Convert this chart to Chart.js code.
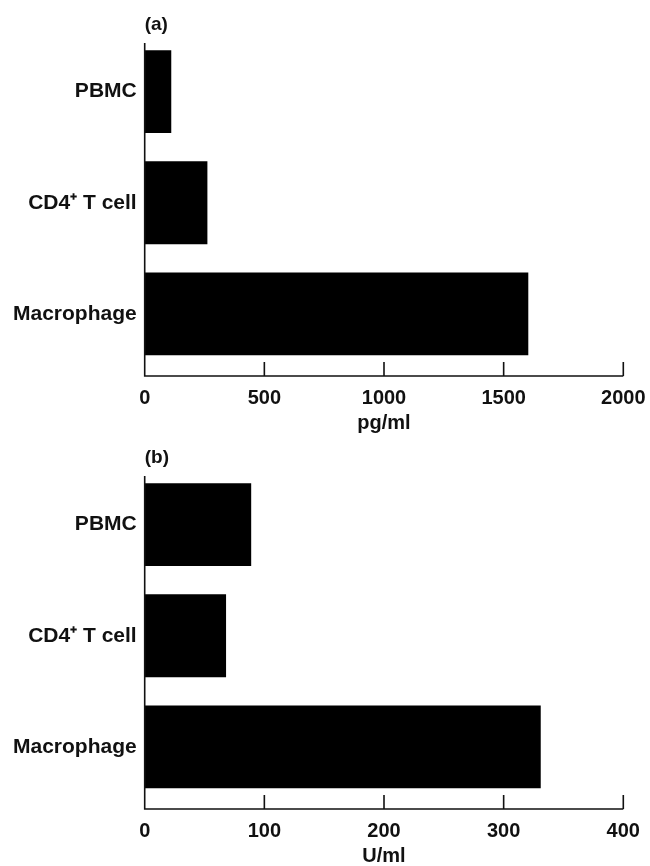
<!DOCTYPE html>
<html>
<head>
<meta charset="utf-8">
<script src="https://cdn.jsdelivr.net/npm/chart.js@4"></script>
<style>
  html, body { margin: 0; padding: 0; background: #fff; }
  .panel { position: relative; width: 650px; height: 433px; }
</style>
</head>
<body>
<div class="panel"><canvas id="chartA"></canvas></div>
<div class="panel"><canvas id="chartB"></canvas></div>
<script>
const categories = ['PBMC', 'CD4\u207A T cell', 'Macrophage'];
const pgValues = [111, 262, 1603];
const uValues = [89, 68, 331];
const pgTicks = [0, 500, 1000, 1500, 2000];
const uTicks = [0, 100, 200, 300, 400];

const FONT = 'Liberation Sans, Arial, Helvetica, sans-serif';

// axis frame drawn a few px below the bars, with ticks pointing inward
const framePlugin = {
  id: 'frame',
  afterDraw(chart, args, opts) {
    const ctx = chart.ctx;
    const x = chart.scales.x;
    const area = chart.chartArea;
    const top = area.top + 7;
    const base = area.bottom + 6.5;
    ctx.save();
    ctx.strokeStyle = '#111';
    ctx.lineWidth = 1.6;
    ctx.beginPath();
    ctx.moveTo(area.left, top);
    ctx.lineTo(area.left, base);
    ctx.lineTo(area.right, base);
    opts.ticks.forEach(v => {
      if (v === 0) return;
      const px = x.getPixelForValue(v);
      ctx.moveTo(px, base);
      ctx.lineTo(px, base - 14);
    });
    ctx.stroke();
    // panel letter
    ctx.fillStyle = '#111';
    ctx.font = 'bold 19px ' + FONT;
    ctx.textBaseline = 'middle';
    ctx.textAlign = 'left';
    ctx.fillText(opts.letter, area.left, 25);
    ctx.restore();
  }
};

function makeChart(id, values, ticks, unit, letter) {
  return new Chart(document.getElementById(id), {
    type: 'bar',
    data: {
      labels: categories,
      datasets: [{
        data: values,
        backgroundColor: '#000',
        borderWidth: 0,
        categoryPercentage: 1,
        barPercentage: 0.745
      }]
    },
    plugins: [framePlugin],
    options: {
      indexAxis: 'y',
      responsive: false,
      animation: false,
      devicePixelRatio: 1,
      layout: { padding: { top: 36, right: 26.7, bottom: 0, left: 0 } },
      plugins: {
        legend: { display: false },
        tooltip: { enabled: false },
        frame: { ticks: ticks, letter: letter }
      },
      scales: {
        x: {
          type: 'linear',
          min: ticks[0],
          max: ticks[ticks.length - 1],
          afterBuildTicks: s => { s.ticks = ticks.map(v => ({ value: v })); },
          afterFit: s => {
            s.height = 63.5;
            s.paddingLeft = 0;
            s.paddingRight = 0;
          },
          grid: { display: false, drawTicks: false },
          border: { display: false },
          ticks: {
            color: '#111',
            padding: 17,
            maxRotation: 0,
            callback: v => String(v),
            font: { family: FONT, size: 20, weight: 'bold' }
          },
          title: {
            display: true,
            text: unit,
            color: '#111',
            padding: 0,
            font: { family: FONT, size: 20, weight: 'bold', lineHeight: 1 }
          }
        },
        y: {
          afterFit: s => { s.width = 144.7; },
          grid: { display: false, drawTicks: false },
          border: { display: false },
          ticks: {
            color: '#111',
            padding: 8,
            font: { family: FONT, size: 21, weight: 'bold' }
          }
        }
      }
    }
  });
}

document.getElementById('chartA').width = 650;
document.getElementById('chartA').height = 433;
document.getElementById('chartB').width = 650;
document.getElementById('chartB').height = 433;

makeChart('chartA', pgValues, pgTicks, 'pg/ml', '(a)');
makeChart('chartB', uValues, uTicks, 'U/ml', '(b)');
</script>
</body>
</html>
